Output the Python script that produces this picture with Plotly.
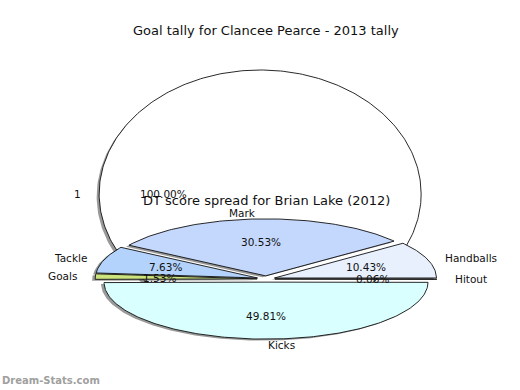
import numpy as np
import plotly.graph_objects as go

# ---- data ----
big_title = "Goal tally for Clancee Pearce - 2013 tally"
big_labels = ["1"]
big_values = [1]
big_colors = ["#ffffff"]

pie_title = "DT score spread for Brian Lake (2012)"
pie_labels = ["Handballs", "Mark", "Tackle", "Goals", "Kicks", "Hitout"]
pie_values = [10.43, 30.53, 7.63, 1.53, 49.81, 0.06]
pie_colors = ["#e8f0fe", "#c4d8fd", "#b3d3fc", "#cce37e", "#d9ffff", "#2a2a2a"]

FONT = "DejaVu Sans"
EXPLODE = 0.055
SHADOW = "rgba(70,70,70,0.55)"

fig = go.Figure()
annotations = []


def add_pie(values, labels, colors, cx, cy, rx, ry, sdx, sdy, title, ty):
    vals = np.asarray(values, dtype=float)
    fr = vals / vals.sum()
    starts = 360.0 * np.concatenate([[0], np.cumsum(fr)[:-1]])
    ends = 360.0 * np.cumsum(fr)
    polys = []
    for a0, a1, f in zip(starts, ends, fr):
        mid = np.deg2rad((a0 + a1) / 2)
        ox = cx + EXPLODE * rx * np.cos(mid)
        oy = cy - EXPLODE * ry * np.sin(mid)
        n = max(3, int(abs(a1 - a0) / 1.0) + 2)
        t = np.deg2rad(np.linspace(a0, a1, n))
        if f >= 0.9999:
            xs = ox + rx * np.cos(t)
            ys = oy - ry * np.sin(t)
        else:
            xs = np.concatenate([[ox], ox + rx * np.cos(t), [ox]])
            ys = np.concatenate([[oy], oy - ry * np.sin(t), [oy]])
        polys.append((xs, ys, mid, ox, oy))
    for xs, ys, *_ in polys:
        fig.add_trace(go.Scatter(x=xs + sdx, y=ys + sdy, mode="lines", fill="toself",
                                 fillcolor=SHADOW, line=dict(width=0, color=SHADOW),
                                 hoverinfo="skip", showlegend=False))
    for (xs, ys, mid, ox, oy), col, lab in zip(polys, colors, labels):
        fig.add_trace(go.Scatter(x=xs, y=ys, mode="lines", fill="toself",
                                 fillcolor=col, line=dict(width=0.9, color="#111111"),
                                 name=lab, showlegend=False))
    for (xs, ys, mid, ox, oy), lab, f in zip(polys, labels, fr):
        c, s = np.cos(mid), np.sin(mid)
        annotations.append(dict(x=ox + 1.1 * rx * c, y=oy - 1.1 * ry * s, text=lab,
                                xanchor="left" if c > 0 else "right", yanchor="middle",
                                showarrow=False, font=dict(family=FONT, size=10.5, color="#111")))
        annotations.append(dict(x=ox + 0.6 * rx * c, y=oy - 0.6 * ry * s, text="%.2f%%" % (f * 100),
                                xanchor="center", yanchor="middle",
                                showarrow=False, font=dict(family=FONT, size=10.5, color="#111")))
    annotations.append(dict(x=266, y=ty, text=title, xanchor="center", yanchor="middle",
                            showarrow=False, font=dict(family=FONT, size=13, color="#111")))


add_pie(big_values, big_labels, big_colors, 269, 194, 161, 124, -2.5, 2.5, big_title, 30)
add_pie(pie_values, pie_labels, pie_colors, 266, 279, 162, 57, -3, 1.5, pie_title, 200)

annotations.append(dict(x=0, y=380, xref="paper", yref="y", text="<b>Dream-Stats.com</b>",
                        xanchor="left", yanchor="middle",
                        showarrow=False, font=dict(family=FONT, size=10, color="#a0a0a0")))

fig.update_layout(
    width=520, height=390,
    margin=dict(l=0, r=0, t=0, b=0),
    paper_bgcolor="white", plot_bgcolor="white",
    xaxis=dict(range=[0, 520], visible=False, fixedrange=True),
    yaxis=dict(range=[390, 0], visible=False, fixedrange=True),
    annotations=annotations,
    showlegend=False,
)

fig.write_html("out.html", config={"displayModeBar": False},
               post_script="document.body.style.margin='0';document.body.style.padding='0';")
